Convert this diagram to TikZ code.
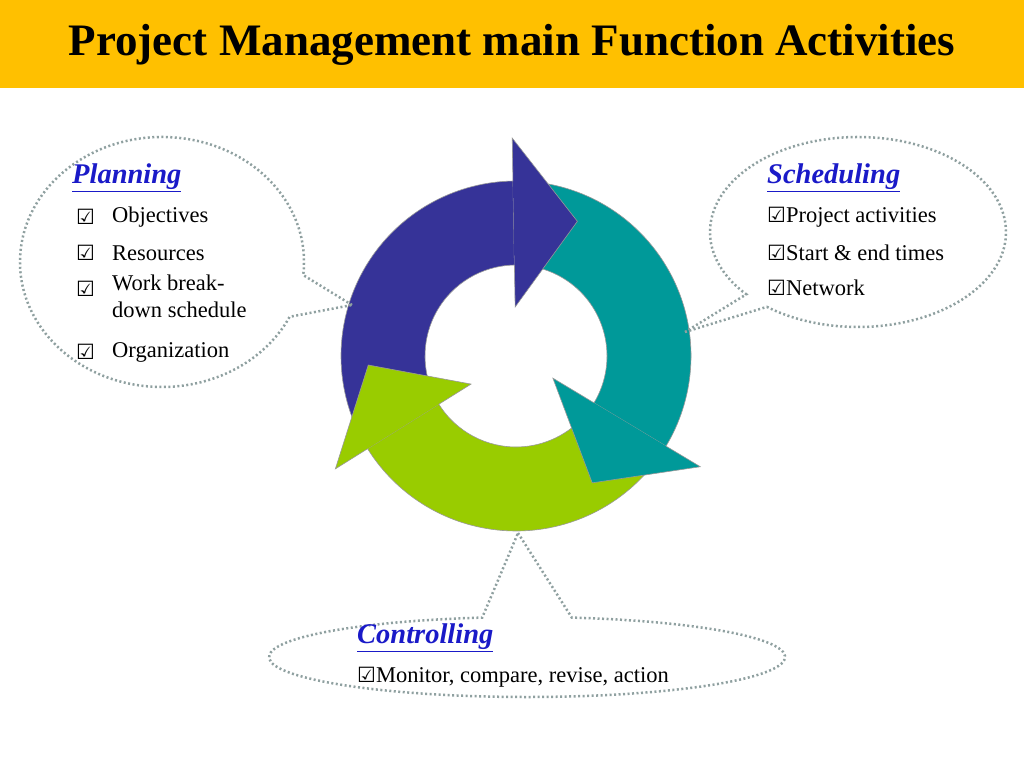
\documentclass[tikz,border=0pt]{standalone}
\usepackage{fontspec}
\setmainfont{Liberation Serif}
\newfontfamily\symf{DejaVu Sans}
\usetikzlibrary{calc}
\definecolor{gold}{HTML}{FFC000}
\definecolor{ablue}{HTML}{363398}
\definecolor{ateal}{HTML}{009999}
\definecolor{agreen}{HTML}{99CC00}
\definecolor{hblue}{HTML}{1A1AC8}
\definecolor{dotc}{HTML}{8FA0A0}
\tikzset{
  body/.style={draw=gray!80, line width=0.6pt},
  bubble/.style={draw=dotc, line width=2.5pt, dash pattern=on 2pt off 2.5pt},
  head/.style={anchor=west, font=\fontsize{28.5}{32}\selectfont\bfseries\itshape, text=hblue, inner sep=0pt},
  item/.style={anchor=west, font=\fontsize{22.5}{27}\selectfont, inner sep=0pt, align=left},
}
\newcommand{\cb}{{\symf\fontsize{21}{24}\selectfont ☑}}
\begin{document}
\begin{tikzpicture}[x=1pt,y=1pt]
\useasboundingbox (0,0) rectangle (1024,768);
\fill[white] (0,0) rectangle (1024,768);
\fill[gold] (0,680) rectangle (1024,768);
\node[font=\fontsize{45}{50}\selectfont\bfseries] (title) at (512,723) {Project Management main Function Activities};
% ring
\coordinate (c) at (516,412);
\def\Ro{175}\def\Ri{91}
% bodies
\filldraw[body,fill=ablue] ($(c)+(205:\Ro)$) arc[start angle=205,end angle=91,radius=\Ro] -- ($(c)+(91:\Ri)$) arc[start angle=91,end angle=205,radius=\Ri] -- cycle;
\filldraw[body,fill=ateal] ($(c)+(85:\Ro)$) arc[start angle=85,end angle=-31,radius=\Ro] -- ($(c)+(-31:\Ri)$) arc[start angle=-31,end angle=85,radius=\Ri] -- cycle;
\filldraw[body,fill=agreen] ($(c)+(-40:\Ro)$) arc[start angle=-40,end angle=-148,radius=\Ro] -- ($(c)+(-148:\Ri)$) arc[start angle=-148,end angle=-40,radius=\Ri] -- cycle;
% heads
\filldraw[body,fill=ablue] ($(c)+(91:\Ri)$) -- ($(c)+(91:49)$) -- ($(c)+(65.5:148)$) -- ($(c)+(91:218)$) -- ($(c)+(91:\Ro)$);
\filldraw[body,fill=ateal] ($(c)+(-31:\Ri)$) -- ($(c)+(-31:43)$) -- ($(c)+(-59:148)$) -- ($(c)+(-31:215)$) -- ($(c)+(-31:\Ro)$);
\filldraw[body,fill=agreen] ($(c)+(-148:\Ri)$) -- ($(c)+(-148:53)$) -- ($(c)+(-176.5:148)$) -- ($(c)+(-148:213)$) -- ($(c)+(-148:\Ro)$);
% bubbles
\coordinate (pc) at (162,506); \coordinate (ptip) at (352,463);
\draw[bubble] (ptip) -- ($(pc)+(-6:142 and 125)$) arc[start angle=-6,end angle=334,x radius=142,y radius=125] -- cycle;
\coordinate (sc) at (858,536); \coordinate (stip) at (685,436);
\draw[bubble] (stip) -- ($(sc)+(232:148 and 95)$) arc[start angle=232,end angle=581,x radius=148,y radius=95] -- cycle;
\coordinate (cc) at (527,111); \coordinate (ctip) at (518,235);
\draw[bubble] (ctip) -- ($(cc)+(80:258 and 40)$) arc[start angle=80,end angle=-260,x radius=258,y radius=40] -- cycle;
% planning text
\node[head] (ph) at (72,590) {\underline{Planning}};
\node[item] (pb1) at (76,551) {\cb};
\node[item] (p1) at (112,551) {Objectives};
\node[item] (pb2) at (76,515) {\cb};
\node[item] (p2) at (112,515) {Resources};
\node[item] (pb3) at (76,479) {\cb};
\node[item,anchor=north west] (p3) at (112,493) {Work break-\\down schedule};
\node[item] (pb4) at (76,416) {\cb};
\node[item] (p4) at (112,416) {Organization};
% scheduling text
\node[head] (sh) at (767,590) {\underline{Scheduling}};
\node[item] (s1) at (767,551) {\cb Project activities};
\node[item] (s2) at (767,515) {\cb Start \& end times};
\node[item] (s3) at (767,480) {\cb Network};
% controlling text
\node[head] (ch) at (357,130) {\underline{Controlling}};
\node[item] (c1) at (357,91) {\cb Monitor, compare, revise, action};
\end{tikzpicture}
\end{document}
